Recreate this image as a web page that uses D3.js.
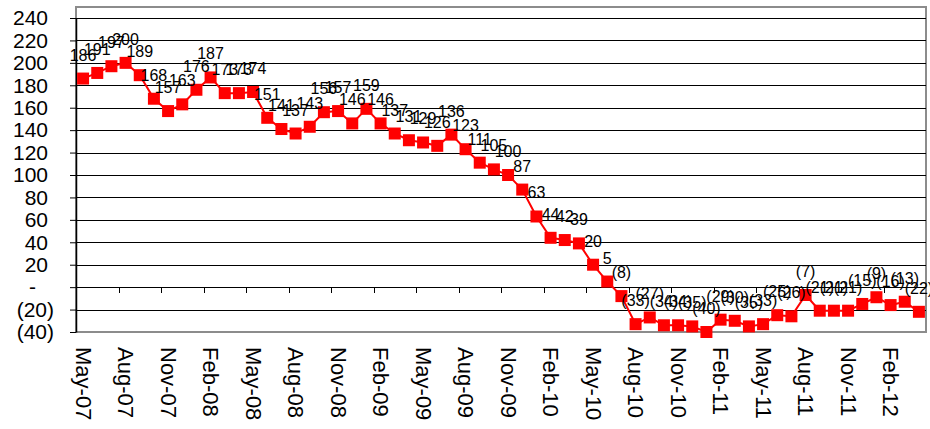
<!DOCTYPE html>
<html lang="en">
<head>
  <meta charset="UTF-8">
  <title>Monthly series May-07 to Apr-12</title>
  <script src="https://d3js.org/d3.v7.min.js"></script>
  <style>
    body {
      margin: 0;
      background-color: #ffffff;
      font-family: Arial, "Liberation Sans", sans-serif;
    }

    .grid line {
      stroke: #000;
      stroke-width: 1;
      shape-rendering: crispEdges;
    }

    .y-axis text {
      font-size: 21px;
      fill: #000;
    }

    .x-label {
      font-size: 22px;
      fill: #000;
    }

    .data-label {
      font-size: 16px;
      fill: #000;
    }
  </style>
</head>
<body>

<svg width="930" height="429"></svg>

<script>
  const months = [
    "May-07", "Jun-07", "Jul-07", "Aug-07", "Sep-07", "Oct-07", "Nov-07", "Dec-07",
    "Jan-08", "Feb-08", "Mar-08", "Apr-08", "May-08", "Jun-08", "Jul-08", "Aug-08",
    "Sep-08", "Oct-08", "Nov-08", "Dec-08", "Jan-09", "Feb-09", "Mar-09", "Apr-09",
    "May-09", "Jun-09", "Jul-09", "Aug-09", "Sep-09", "Oct-09", "Nov-09", "Dec-09",
    "Jan-10", "Feb-10", "Mar-10", "Apr-10", "May-10", "Jun-10", "Jul-10", "Aug-10",
    "Sep-10", "Oct-10", "Nov-10", "Dec-10", "Jan-11", "Feb-11", "Mar-11", "Apr-11",
    "May-11", "Jun-11", "Jul-11", "Aug-11", "Sep-11", "Oct-11", "Nov-11", "Dec-11",
    "Jan-12", "Feb-12", "Mar-12", "Apr-12"
  ];

  const values = [
    186, 191, 197, 200, 189, 168, 157, 163, 176, 187, 173, 173,
    174, 151, 141, 137, 143, 156, 157, 146, 159, 146, 137, 131,
    129, 126, 136, 123, 111, 105, 100, 87, 63, 44, 42, 39,
    20, 5, -8, -33, -27, -34, -34, -35, -40, -29, -30, -35,
    -33, -25, -26, -7, -21, -21, -21, -15, -9, -16, -13, -22
  ];

  const yTicks = [-40, -20, 0, 20, 40, 60, 80, 100, 120, 140, 160, 180, 200, 220, 240];

  const width = 930;
  const height = 429;
  const plot = { left: 76, right: 926, top: 18, bottom: 332, frameTop: 7 };

  // accounting style: (20) for negatives, "-" for zero
  const fmt = v => v < 0 ? `(${-v})` : (v === 0 ? "-" : `${v}`);

  const svg = d3.select("svg").attr("width", width).attr("height", height);

  const x = d3.scaleBand().domain(months).range([plot.left, plot.right]);
  const y = d3.scaleLinear().domain([-40, 240]).range([plot.bottom, plot.top]);
  const cx = m => x(m) + x.bandwidth() / 2;

  // plot frame
  svg.append("rect")
    .attr("x", plot.left)
    .attr("y", plot.frameTop)
    .attr("width", plot.right - plot.left)
    .attr("height", plot.bottom - plot.frameTop)
    .attr("fill", "none")
    .attr("stroke", "#8c8c8c")
    .attr("stroke-width", 2);

  // horizontal gridlines
  svg.append("g")
    .attr("class", "grid")
    .selectAll("line")
    .data(yTicks.filter(t => t > -40))
    .join("line")
    .attr("x1", plot.left)
    .attr("x2", plot.right)
    .attr("y1", d => Math.round(y(d)) + 0.5)
    .attr("y2", d => Math.round(y(d)) + 0.5);

  // tick marks on the zero line, every 3 months
  svg.append("g")
    .attr("class", "grid")
    .selectAll("line")
    .data(months.filter((m, i) => i > 0 && i % 3 === 0))
    .join("line")
    .attr("x1", d => Math.round(x(d)) + 0.5)
    .attr("x2", d => Math.round(x(d)) + 0.5)
    .attr("y1", Math.round(y(0)))
    .attr("y2", Math.round(y(0)) + 6);

  // y axis
  const yAxis = svg.append("g")
    .attr("class", "y-axis")
    .attr("transform", `translate(${plot.left},0)`)
    .call(d3.axisLeft(y).tickValues(yTicks).tickFormat(fmt).tickSize(6).tickSizeOuter(0).tickPadding(22));

  yAxis.select(".domain").attr("stroke", "#000").attr("stroke-width", 1.5);
  yAxis.selectAll(".tick line").attr("stroke", "#000");
  yAxis.selectAll(".tick text")
    .attr("font-family", "Arial, 'Liberation Sans', sans-serif")
    .attr("dx", d => d < 0 ? 6 : (d === 0 ? -12 : 0));

  // x labels, rotated, every 3rd month
  svg.append("g")
    .selectAll("text")
    .data(months.filter((m, i) => i % 3 === 0))
    .join("text")
    .attr("class", "x-label")
    .attr("transform", d => `translate(${cx(d)},347) rotate(90)`)
    .attr("text-anchor", "start")
    .attr("dominant-baseline", "central")
    .text(d => d);

  // series line
  const line = d3.line()
    .x((d, i) => cx(months[i]))
    .y(d => y(d));

  svg.append("path")
    .datum(values)
    .attr("fill", "none")
    .attr("stroke", "#ff0000")
    .attr("stroke-width", 2)
    .attr("d", line);

  // square markers
  const size = 12;
  svg.append("g")
    .selectAll("rect")
    .data(values)
    .join("rect")
    .attr("x", (d, i) => cx(months[i]) - size / 2)
    .attr("y", d => y(d) - size / 2)
    .attr("width", size)
    .attr("height", size)
    .attr("fill", "#ff0000");

  // data labels
  svg.append("g")
    .selectAll("text")
    .data(values)
    .join("text")
    .attr("class", "data-label")
    .attr("x", (d, i) => cx(months[i]))
    .attr("y", d => y(d) - 18)
    .attr("text-anchor", "middle")
    .text(d => fmt(d));
</script>

</body>
</html>
